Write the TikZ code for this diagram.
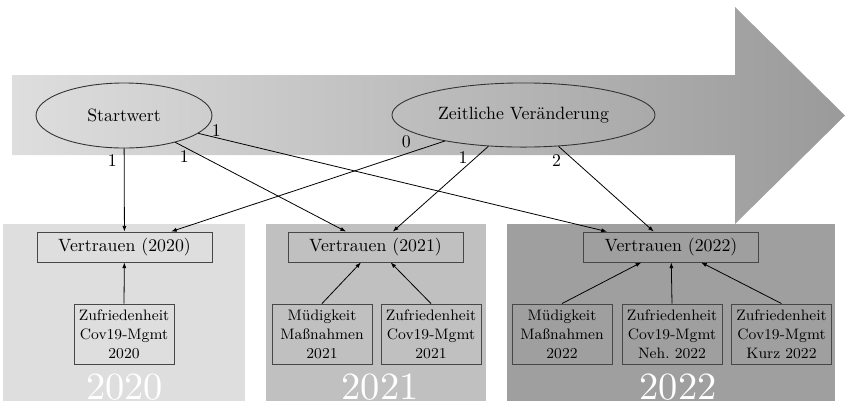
\documentclass[tikz,border=0pt]{standalone}
\usepackage{fontspec}
\usetikzlibrary{shapes.geometric,arrows.meta}
\definecolor{bgA}{HTML}{DEDEDE}
\definecolor{bgB}{HTML}{C0C0C0}
\definecolor{bgC}{HTML}{9F9F9F}
\definecolor{arrL}{HTML}{DEDEDE}
\definecolor{arrR}{HTML}{9A9A9A}
\begin{document}
\begin{tikzpicture}[x=0.5615pt,y=-0.5615pt,
  latent/.style={ellipse,draw=black!80,line width=0.5pt,inner sep=0pt},
  obs/.style={rectangle,draw=black!72,line width=0.5pt,inner sep=0pt,minimum width=98.3pt,minimum height=16.8pt},
  ind/.style={rectangle,draw=black!72,line width=0.5pt,inner sep=0pt,minimum width=56.2pt,minimum height=33.7pt,align=center,font=\fontsize{8.5}{10.7}\selectfont},
  conn/.style={-{Latex[length=3.2pt,width=2.3pt]},line width=0.45pt},
  lbl/.style={inner sep=0pt},
  year/.style={text=white,anchor=base,inner sep=0pt}
]
\useasboundingbox (0,0) rectangle (846,401);
% big time arrow
\shade[left color=arrL,right color=arrR] (12,75) -- (735,75) -- (735,7) -- (845,115.5) -- (735,224) -- (735,155) -- (12,155) -- cycle;
% year backgrounds
\fill[bgA] (3,224) rectangle (245,401);
\fill[bgB] (266,224) rectangle (486,401);
\fill[bgC] (507,224) rectangle (835,401);
% year labels
\node[year] (Y20) at (124.5,399) {\scalebox{2.16}{2020}};
\node[year] (Y21) at (380,399) {\scalebox{2.16}{2021}};
\node[year] (Y22) at (678,399) {\scalebox{2.16}{2022}};
% latent nodes
\node[latent,minimum width=98.8pt,minimum height=36.5pt] (S) at (124,115.5) {Startwert};
\node[latent,minimum width=147.7pt,minimum height=36pt] (Z) at (523.5,115) {Zeitliche Veränderung};
% trust nodes
\node[obs] (V20) at (124.5,247) {Vertrauen (2020)};
\node[obs] (V21) at (375.5,247) {Vertrauen (2021)};
\node[obs] (V22) at (671,247) {Vertrauen (2022)};
% indicator nodes
\node[ind] (Z20) at (124,334) {Zufriedenheit\\Cov19-Mgmt\\2020};
\node[ind] (M21) at (322,334) {Müdigkeit\\Maßnahmen\\2021};
\node[ind] (Z21) at (431,334) {Zufriedenheit\\Cov19-Mgmt\\2021};
\node[ind] (M22) at (562,334) {Müdigkeit\\Maßnahmen\\2022};
\node[ind] (ZN22) at (672,334) {Zufriedenheit\\Cov19-Mgmt\\Neh.\ 2022};
\node[ind] (ZK22) at (781.5,334) {Zufriedenheit\\Cov19-Mgmt\\Kurz 2022};
% indicator arrows
\draw[conn] (Z20.north) -- (V20);
\draw[conn] (M21.north) -- (V21);
\draw[conn] (Z21.north) -- (V21);
\draw[conn] (M22.north) -- (V22);
\draw[conn] (ZN22.north) -- (V22);
\draw[conn] (ZK22.north) -- (V22);
% latent loadings
\draw[conn] (S) -- node[lbl,pos=0.143,shift={(-11.8,0)}] {1} (V20);
\draw[conn] (S) -- node[lbl,pos=0.078,shift={(-4.3,7)}] {1} (V21);
\draw[conn] (S) -- node[lbl,pos=0.04,shift={(1.7,-7)}] {1} (V22);
\draw[conn] (Z) -- node[lbl,pos=0.1275,shift={(-3.6,-10.6)}] {0} (V20);
\draw[conn] (Z) -- node[lbl,pos=0.2045,shift={(-5.8,-6.4)}] {1} (V21);
\draw[conn] (Z) -- node[lbl,pos=0.063,shift={(-7.9,8.6)}] {2} (V22);
\end{tikzpicture}
\end{document}
